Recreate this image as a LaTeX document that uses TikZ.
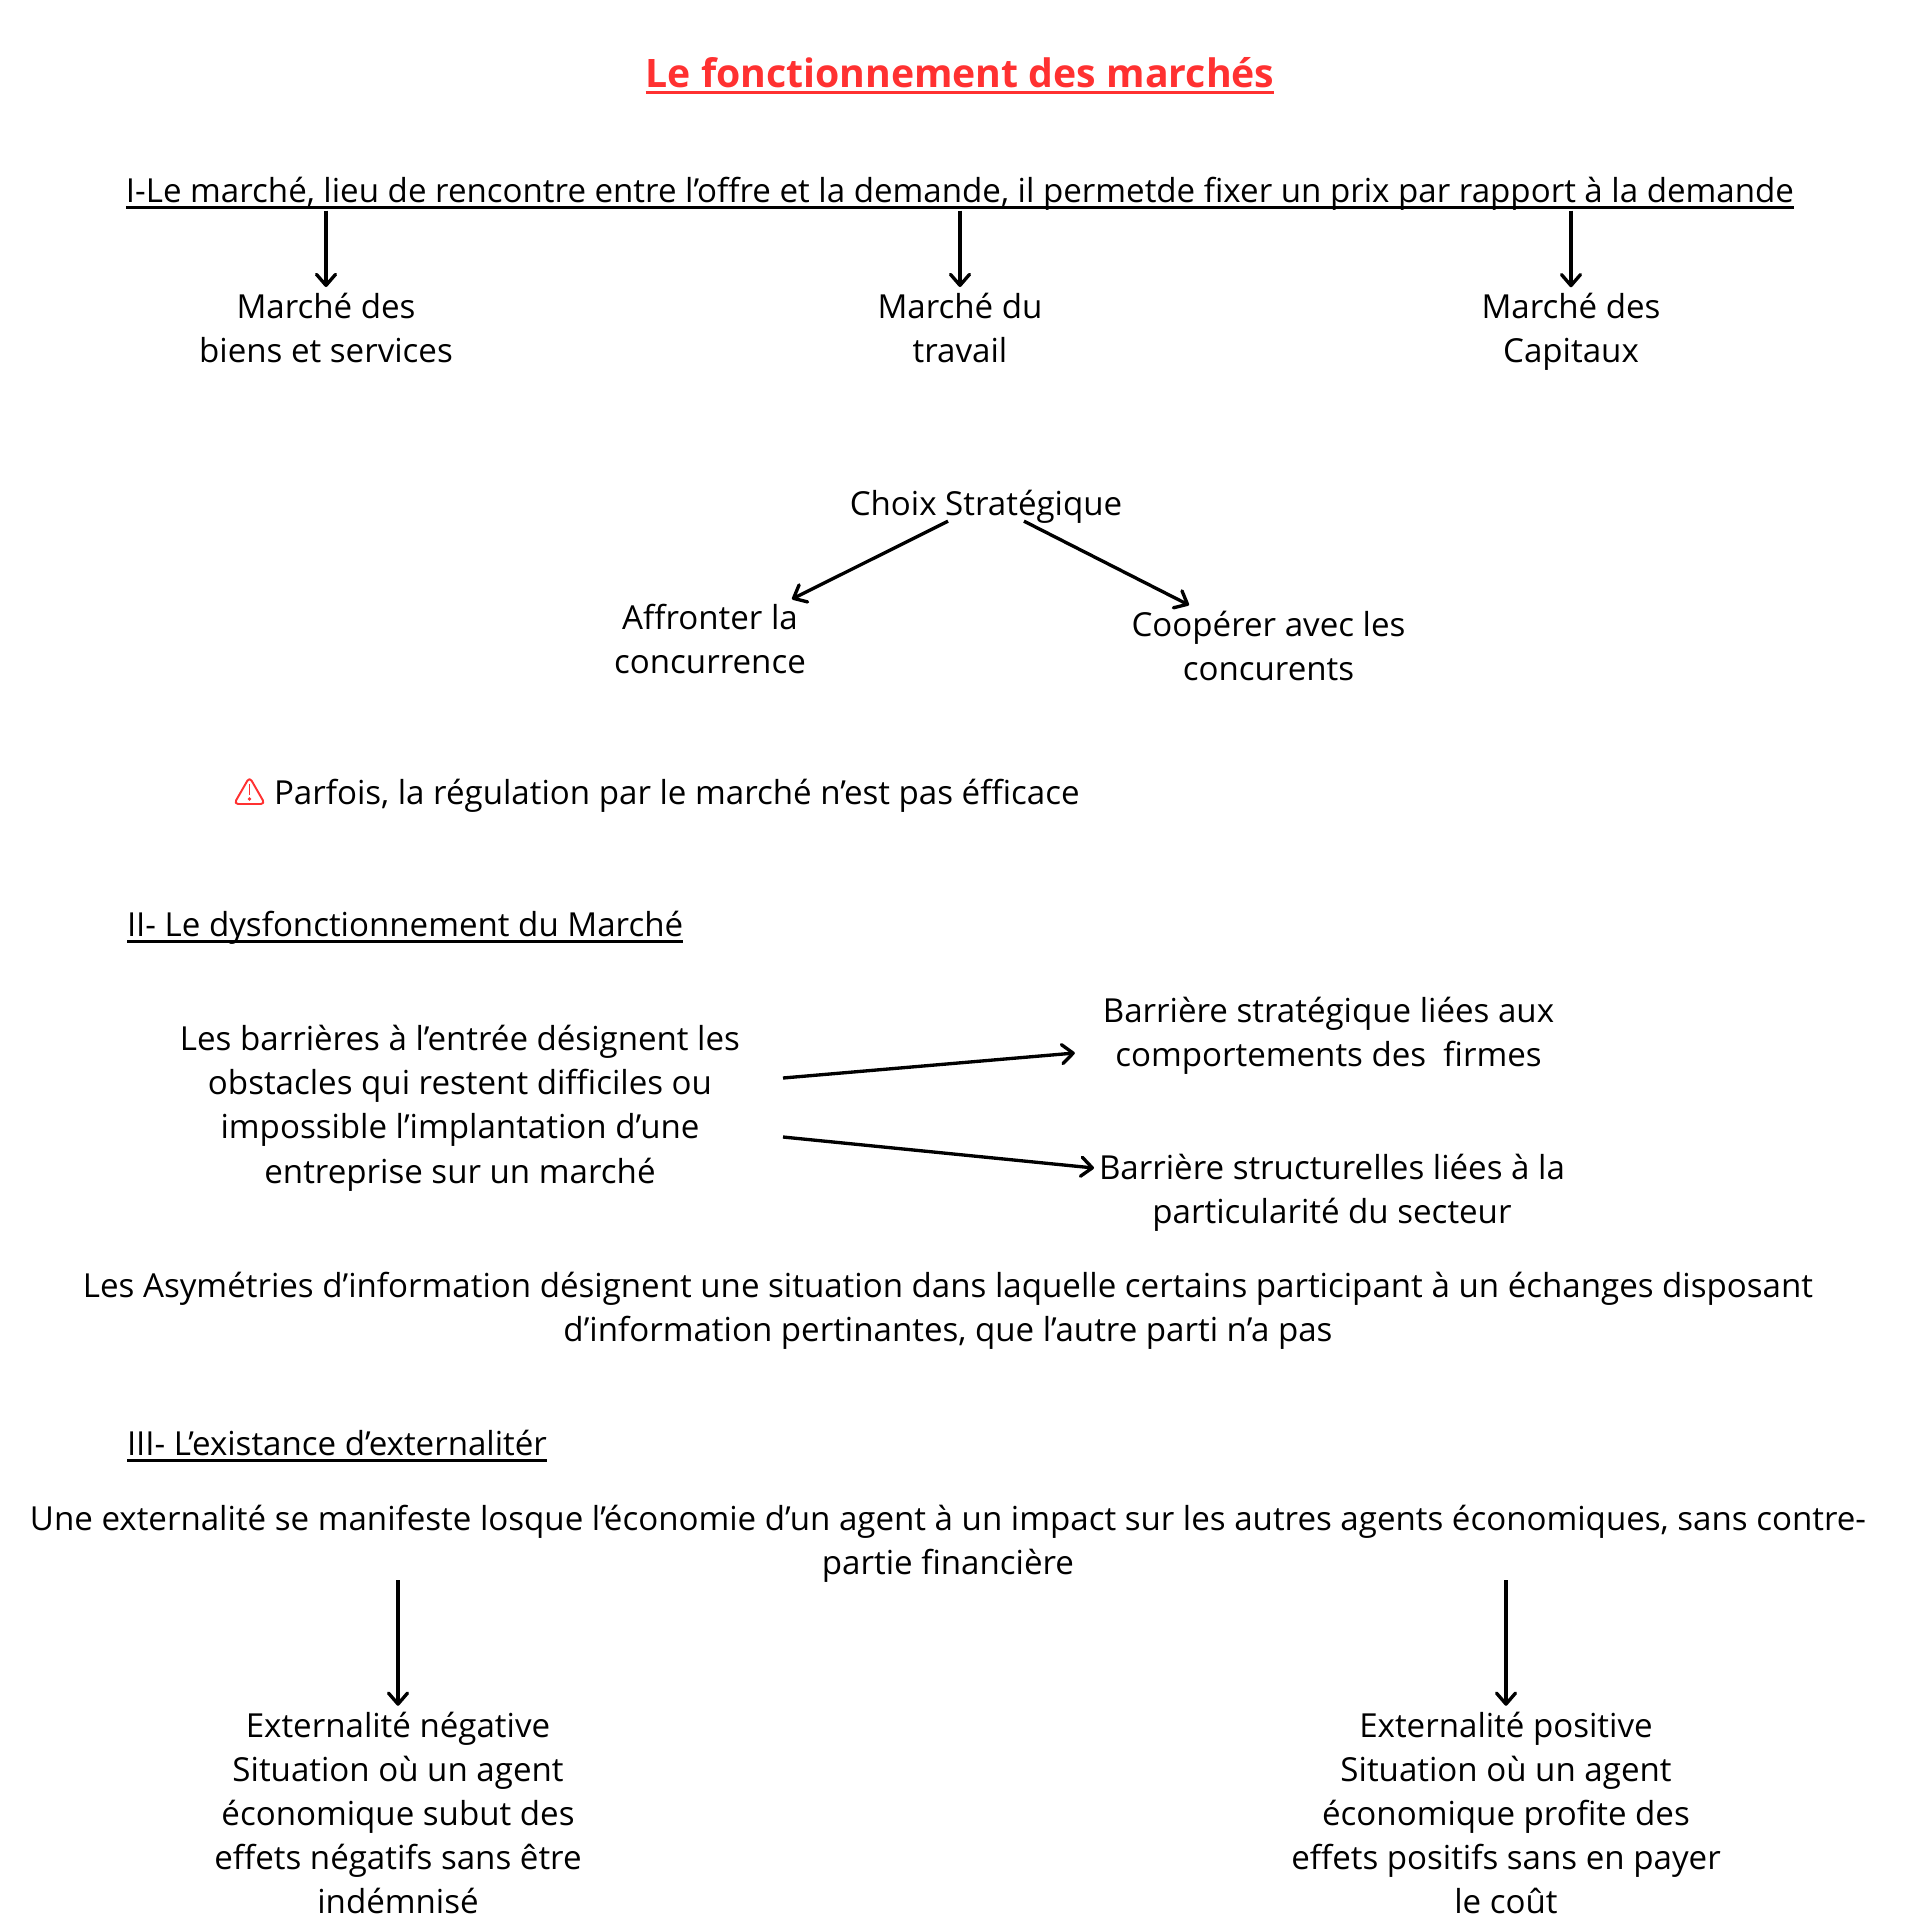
\documentclass[tikz,border=0pt]{standalone}
\usepackage{fontspec}
\setmainfont{Open Sans}
\usetikzlibrary{
    arrows.meta,
    calc
}
\definecolor{titlered}{HTML}{FF3131}
\tikzset{
    every picture/.style = {
        > = {Straight Barb[length = 1.1mm, width = 1.9mm, line width = 0.95pt, round]},
        line width = 0.95pt
    },
    every node/.style = {
        inner sep = 0pt,
        outer sep = 0pt,
        align = center,
        font = \fontsize{9.41}{12.57}\selectfont
    },
    heading/.style = {
        anchor = west
    },
    warnicon/.style = {
        draw = titlered,
        line width = 0.55pt,
        rounded corners = 1.2pt,
        line join = round
    }
}
\newcommand{\ruleunder}[2][black]{%
    \draw[#1, line width = 0.85pt] ($(#2.base west) + (0, 5)$) -- ($(#2.base east) + (0, 5)$);
}

\begin{document}
\begin{tikzpicture}[x = 0.01cm, y = -0.01cm]
    \useasboundingbox (0, 0) rectangle (1920, 1920);
    \node[text = titlered, font = \fontsize{11.15}{14}\selectfont\bfseries] (title) at (960, 73) {Le fonctionnement des marchés};
    \node (intro) at (960, 194) {I-Le marché, lieu de rencontre entre l’offre et la demande, il permetde fixer un prix par rapport à la demande};
    \node (biens) at (326, 328) {Marché des\\biens et services};
    \node (travail) at (960, 328) {Marché du\\travail};
    \node (capitaux) at (1571, 331.5) {Marché des\\Capitaux};
    \node (choix) at (986, 506.5) {Choix Stratégique};
    \node (affronter) at (710, 639) {Affronter la\\concurrence};
    \node (cooperer) at (1268.5, 646) {Coopérer avec les\\concurents};
    \node[heading] (parfois) at (274, 796) {Parfois, la régulation par le marché n’est pas éfficace};
    \node[heading] (dysf) at (127, 928) {II- Le dysfonctionnement du Marché};
    \node (barrieres) at (460, 1108) {Les barrières à l’entrée désignent les\\obstacles qui restent difficiles ou\\impossible l’implantation d’une\\entreprise sur un marché};
    \node (strategique) at (1328.5, 1036) {Barrière stratégique liées aux\\comportements des~~firmes};
    \node (structurelles) at (1332, 1193) {Barrière structurelles liées à la\\particularité du secteur};
    \node (asym) at (948, 1311) {Les Asymétries d’information désignent une situation dans laquelle certains participant à un échanges disposant\\d’information pertinantes, que l’autre parti n’a pas};
    \node[heading] (exist) at (127, 1443) {III- L’existance d’externalitér};
    \node (externalite) at (948, 1544) {Une externalité se manifeste losque l’économie d’un agent à un impact sur les autres agents économiques, sans contre-\\partie financière};
    \node (negative) at (398, 1813) {Externalité négative\\Situation où un agent\\économique subut des\\effets négatifs sans être\\indémnisé};
    \node (positive) at (1506, 1813) {Externalité positive\\Situation où un agent\\économique profite des\\effets positifs sans en payer\\le coût};
    % underlines
    \ruleunder[titlered]{title}
    \ruleunder{intro}
    \ruleunder{dysf}
    \ruleunder{exist}
    % warning sign
    \draw[warnicon] (249.5, 777) -- (265, 804) -- (234, 804) -- cycle;
    \draw[titlered, line width = 0.55pt] (249.5, 784) -- (249.5, 795);
    \fill[titlered] (249.5, 799) circle (1.8);
    % arrows
    \draw[->] (intro.south -| biens) -- ($(biens.north) + (0, -6)$);
    \draw[->] (intro.south -| travail) -- ($(travail.north) + (0, -6)$);
    \draw[->] (intro.south -| capitaux) -- ($(capitaux.north) + (0, -5.5)$);
    \draw[->] ($(choix.south) + (-38, -2)$) -- ($(affronter.north) + (82, -5)$);
    \draw[->] ($(choix.south) + (38, -2)$) -- ($(cooperer.north) + (-79.5, -6)$);
    \draw[->] ($(barrieres.east) + (43, -30)$) -- ($(strategique.west) + (-28, 17)$);
    \draw[->] ($(barrieres.east) + (43, 29)$) -- ($(structurelles.west) + (-5, -25)$);
    \draw[->] ($(externalite.south -| negative) + (0, -2.5)$) -- ($(negative.north) + (0, -6)$);
    \draw[->] ($(externalite.south -| positive) + (0, -2.5)$) -- ($(positive.north) + (0, -6)$);
\end{tikzpicture}
\end{document}
